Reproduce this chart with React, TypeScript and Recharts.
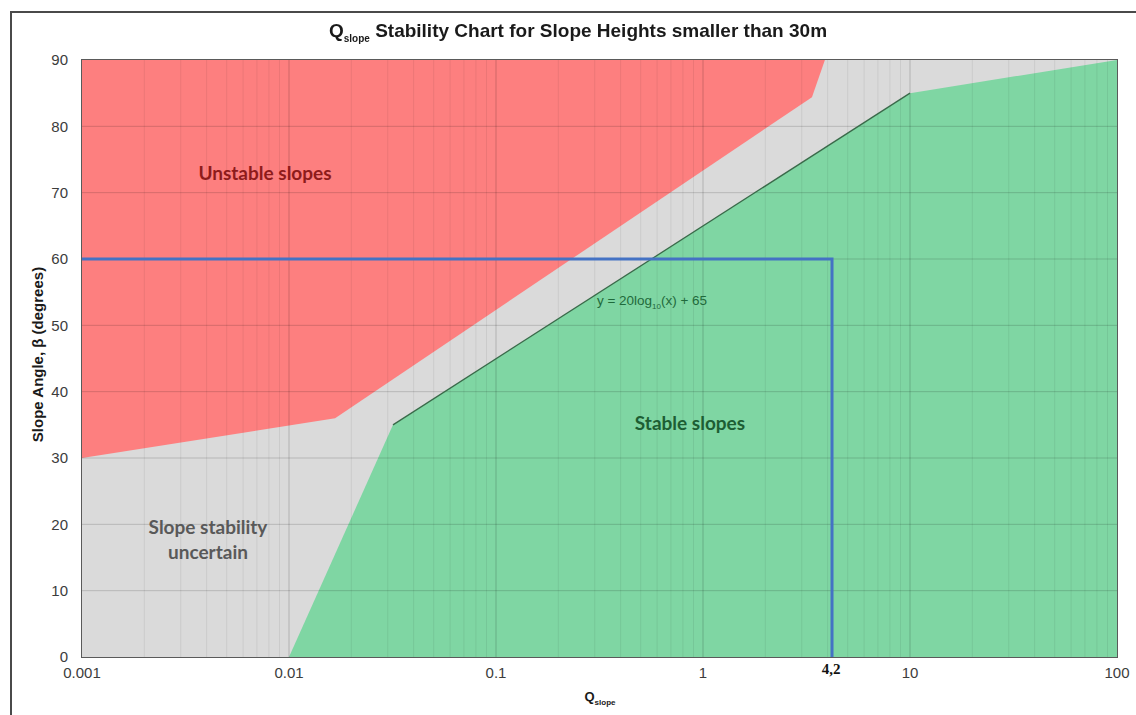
import React from "react";
import {
  ComposedChart,
  Area,
  Line,
  XAxis,
  YAxis,
  CartesianGrid,
  ReferenceLine,
} from "recharts";

// boundary of the unstable zone (upper edge is 90 degrees)
const redX = [0.001, 0.0167, 3.36, 3.88];
const redLow = [30, 36, 84.4, 90];

// boundary of the stable zone (lower edge is 0 degrees)
const greenX = [0.01, 0.0318, 10, 100];
const greenY = [0, 35, 85, 90];

// y = 20log10(x) + 65 segment
const fitX = [0.0318, 10];
const fitY = [35, 85];

// reading for Q = 4.2
const readX = [0.001, 4.2, 4.2];
const readY = [60, 60, 0];

const xTicks = [0.001, 0.01, 0.1, 1, 10, 100];
const yTicks = [0, 10, 20, 30, 40, 50, 60, 70, 80, 90];
const minorSteps = [2, 3, 4, 5, 6, 7, 8, 9];
const decades = [0.001, 0.01, 0.1, 1, 10];

const redData = redX.map((x, i) => ({ x, range: [redLow[i], 90] }));
const greenData = greenX.map((x, i) => ({ x, y: greenY[i] }));
const fitData = fitX.map((x, i) => ({ x, y: fitY[i] }));
const readData = readX.map((x, i) => ({ x, y: readY[i] }));
const minorX = decades.flatMap((d) => minorSteps.map((m) => +(d * m).toPrecision(3)));

const W = 1136;
const H = 715;
const PL = 82;
const PT = 60;
const PR = 1117;
const PB = 657;

const axisFont = "'Liberation Sans', Arial, sans-serif";
const labelFont = "Lato, 'Open Sans', sans-serif";

const fmtTick = (v: number) => String(v);

export default function App() {
  return (
    <div style={{ position: "fixed", left: 0, top: 0, width: W, height: H, background: "#fff", fontFamily: axisFont }}>
      {/* outer frame */}
      <div
        style={{
          position: "absolute",
          left: 10,
          top: 11,
          width: W,
          height: H,
          borderTop: "2px solid #4a4a4a",
          borderLeft: "2px solid #4a4a4a",
        }}
      />
      <ComposedChart
        width={W}
        height={H}
        margin={{ top: PT, right: W - PR, bottom: 28, left: 32 }}
        style={{ position: "absolute", left: 0, top: 0 }}
      >
        <CartesianGrid fill="#dadada" horizontal={false} vertical={false} />
        <XAxis
          dataKey="x"
          type="number"
          scale="log"
          domain={[0.001, 100]}
          ticks={xTicks}
          tickFormatter={fmtTick}
          allowDataOverflow
          height={30}
          axisLine={false}
          tickLine={false}
          tickSize={0}
          tickMargin={10}
          tick={{ fill: "#3c3c3c", fontSize: 15, fontFamily: axisFont }}
        />
        <YAxis
          type="number"
          domain={[0, 90]}
          ticks={yTicks}
          width={50}
          axisLine={false}
          tickLine={false}
          tickSize={0}
          tickMargin={14}
          tick={{ fill: "#3c3c3c", fontSize: 15, fontFamily: axisFont }}
        />
        <Area
          data={redData}
          dataKey="range"
          type="linear"
          stroke="none"
          fill="#fd7f7f"
          fillOpacity={1}
          isAnimationActive={false}
        />
        <Area
          data={greenData}
          dataKey="y"
          type="linear"
          baseValue={0}
          stroke="none"
          fill="#7fd6a3"
          fillOpacity={1}
          isAnimationActive={false}
        />
        {minorX.map((v) => (
          <ReferenceLine key={"m" + v} x={v} stroke="#000" strokeOpacity={0.07} />
        ))}
        {xTicks.slice(1, -1).map((v) => (
          <ReferenceLine key={"M" + v} x={v} stroke="#000" strokeOpacity={0.18} />
        ))}
        {yTicks.slice(1, -1).map((v) => (
          <ReferenceLine key={"h" + v} y={v} stroke="#000" strokeOpacity={0.16} />
        ))}
        <Line
          data={fitData}
          dataKey="y"
          type="linear"
          stroke="#3a6a4a"
          strokeWidth={1.3}
          dot={false}
          isAnimationActive={false}
        />
        <Line
          data={readData}
          dataKey="y"
          type="linear"
          stroke="#4472c4"
          strokeWidth={3}
          dot={false}
          isAnimationActive={false}
        />
      </ComposedChart>

      {/* plot border */}
      <div
        style={{
          position: "absolute",
          left: PL - 1,
          top: PT - 1,
          width: PR - PL,
          height: PB - PT,
          border: "1px solid #5a5a5a",
          pointerEvents: "none",
        }}
      />

      {/* title */}
      <div
        style={{
          position: "absolute",
          left: 0,
          width: 1156,
          top: 20,
          textAlign: "center",
          fontWeight: "bold",
          fontSize: 19,
          color: "#1a1a1a",
        }}
      >
        Q<sub style={{ fontSize: 10 }}>slope</sub> Stability Chart for Slope Heights smaller than 30m
      </div>

      {/* axis titles */}
      <div
        style={{
          position: "absolute",
          left: 560,
          width: 80,
          top: 689,
          textAlign: "center",
          fontWeight: "bold",
          fontSize: 13,
          color: "#1a1a1a",
        }}
      >
        Q<sub style={{ fontSize: 8 }}>slope</sub>
      </div>
      <div
        style={{
          position: "absolute",
          left: 37 - 120,
          top: 355 - 9,
          width: 240,
          textAlign: "center",
          fontWeight: "bold",
          fontSize: 15,
          color: "#1a1a1a",
          transform: "rotate(-90deg)",
        }}
      >
        Slope Angle, β (degrees)
      </div>

      {/* zone labels */}
      <div style={{ position: "absolute", left: 165, width: 200, top: 161, textAlign: "center", fontFamily: labelFont, fontWeight: "bold", fontSize: 19, color: "#8e1b1b" }}>
        Unstable slopes
      </div>
      <div style={{ position: "absolute", left: 590, width: 200, top: 411, textAlign: "center", fontFamily: labelFont, fontWeight: "bold", fontSize: 19, color: "#1d5e33" }}>
        Stable slopes
      </div>
      <div style={{ position: "absolute", left: 108, width: 200, top: 514, textAlign: "center", fontFamily: labelFont, fontWeight: "bold", fontSize: 19, lineHeight: "25px", color: "#595959" }}>
        Slope stability
        <br />
        uncertain
      </div>
      <div style={{ position: "absolute", left: 552, width: 200, top: 293, textAlign: "center", fontSize: 13.5, color: "#1f6a3b" }}>
        y = 20log<sub style={{ fontSize: 8 }}>10</sub>(x) + 65
      </div>

      {/* reading label */}
      <div style={{ position: "absolute", left: 801, width: 60, top: 661, textAlign: "center", fontFamily: "'Liberation Serif', serif", fontWeight: "bold", fontSize: 15, color: "#111" }}>
        4,2
      </div>
    </div>
  );
}
